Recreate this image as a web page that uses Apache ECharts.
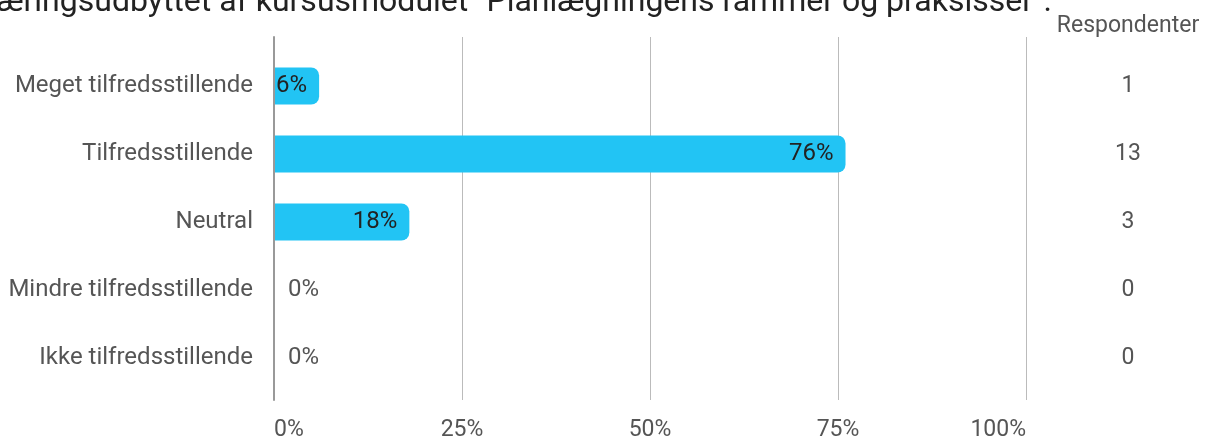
<!DOCTYPE html>
<html>
<head>
<meta charset="utf-8">
<script src="https://cdn.jsdelivr.net/npm/echarts@6/dist/echarts.min.js"></script>
<style>
  html, body { margin: 0; padding: 0; background: #fff; }
  #chart { width: 1220px; height: 442px; }
</style>
</head>
<body>
<div id="chart"></div>
<script>
const categories = ['Meget tilfredsstillende', 'Tilfredsstillende', 'Neutral', 'Mindre tilfredsstillende', 'Ikke tilfredsstillende'];
const percents = [6, 76, 18, 0, 0];
const respondents = [1, 13, 3, 0, 0];
const xTicks = [0, 25, 50, 75, 100];

const titleText = 'Hvordan vurderer du læringsudbyttet af kursusmodulet "Planlægningens rammer og praksisser".';

const font = 'Roboto, "Noto Sans", sans-serif';

const chart = echarts.init(document.getElementById('chart'));

const barData = percents.map((v, i) => {
  const item = { value: v };
  if (v === 0) {
    item.label = { position: 'right', distance: 14, color: '#555' };
  }
  return item;
});

chart.setOption({
  animation: false,
  textStyle: { fontFamily: font },
  graphic: [
    {
      type: 'text',
      style: { x: 1052, y: -13, text: titleText, font: '32px ' + font, fill: '#222', align: 'right', verticalAlign: 'top' }
    },
    {
      type: 'text',
      style: { x: 1128, y: 26, text: 'Respondenter', font: '23px ' + font, fill: '#555', align: 'center', verticalAlign: 'middle' }
    }
  ],
  grid: [
    { left: 274, right: 194, top: 37, bottom: 42 },
    { left: 274, right: 194, top: 52, bottom: 50 }
  ],
  xAxis: [
    {
      gridIndex: 0, type: 'value', min: xTicks[0], max: xTicks[xTicks.length - 1], interval: 25,
      axisLine: { show: false }, axisTick: { show: false },
      splitLine: { lineStyle: { color: '#bbb', width: 1 } },
      axisLabel: {
        formatter: '{value}%', color: '#555', fontSize: 23, margin: 19,
        alignMinLabel: 'left', alignMaxLabel: 'right'
      }
    },
    {
      gridIndex: 1, type: 'value', min: 0, max: 100, show: false
    }
  ],
  yAxis: [
    {
      gridIndex: 0, type: 'category', data: [''], z: 5,
      axisLine: { lineStyle: { color: '#999', width: 2 } },
      axisTick: { show: false }, axisLabel: { show: false }
    },
    {
      gridIndex: 1, type: 'category', data: categories, inverse: true,
      axisLine: { show: false }, axisTick: { show: false },
      axisLabel: { color: '#555', fontSize: 24, margin: 21, padding: [4, 0, 0, 0] }
    },
    {
      gridIndex: 1, type: 'category', data: respondents.map(String), inverse: true, position: 'right',
      axisLine: { show: false }, axisTick: { show: false },
      axisLabel: { color: '#555', fontSize: 23, margin: 102, align: 'center', padding: [4, 0, 0, 0] }
    }
  ],
  series: [
    {
      type: 'bar',
      xAxisIndex: 1,
      yAxisIndex: 1,
      data: barData,
      barWidth: 37,
      itemStyle: { color: '#22c4f4', borderRadius: [0, 8, 8, 0] },
      label: {
        show: true,
        position: 'insideRight',
        distance: 12,
        color: '#222',
        fontSize: 24,
        formatter: p => Math.round(p.value) + '%'
      }
    }
  ]
});
</script>
</body>
</html>
